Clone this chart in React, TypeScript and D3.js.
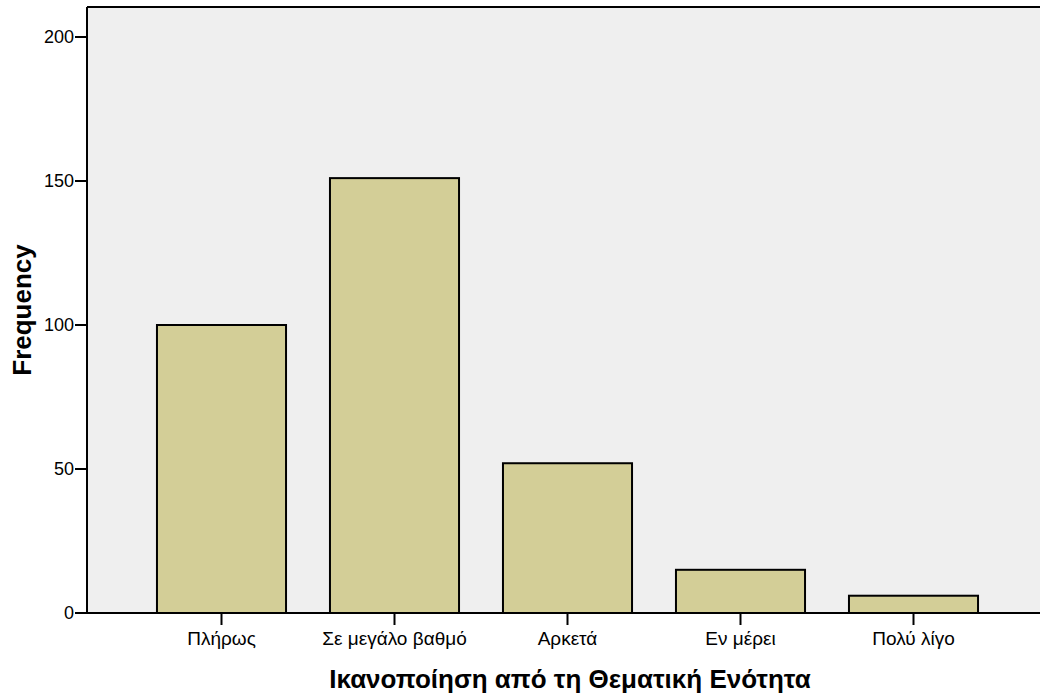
import React from "react";
import * as d3 from "d3";

const categories = ["Πλήρως", "Σε μεγάλο βαθμό", "Αρκετά", "Εν μέρει", "Πολύ λίγο"];
const frequencies = [100, 151, 52, 15, 6];
const yTicks = [0, 50, 100, 150, 200];

export default function App() {
  const W = 1040, H = 694;
  const left = 87, top = 7, right = 1040, bottom = 613;
  const x = d3.scaleBand<string>().domain(categories).range([135, 1000]).paddingInner(0.254).paddingOuter(0.127);
  const y = d3.scaleLinear().domain([0, 200]).range([bottom, 37]);
  const font = "'Liberation Sans', Arial, sans-serif";
  return (
    <svg width={W} height={H} style={{ position: "absolute", left: 0, top: 0 }} fontFamily={font}>
      <rect x={left} y={top} width={right - left} height={bottom - top} fill="#efefef" />
      <line x1={left} x2={right} y1={top} y2={top} stroke="#000" strokeWidth={2} />
      {categories.map((c, i) => (
        <rect key={c} x={x(c)!} y={y(frequencies[i])} width={x.bandwidth()} height={bottom - y(frequencies[i])}
          fill="#d3ce97" stroke="#000" strokeWidth={2} />
      ))}
      <line x1={left} x2={left} y1={top} y2={bottom} stroke="#000" strokeWidth={2} />
      <line x1={left} x2={right} y1={bottom} y2={bottom} stroke="#000" strokeWidth={2} />
      {yTicks.map(t => (
        <g key={t}>
          <line x1={left - 12} x2={left} y1={y(t)} y2={y(t)} stroke="#000" strokeWidth={2} />
          <text x={left - 13} y={y(t)} dy="0.36em" textAnchor="end" fontSize={18}>{t}</text>
        </g>
      ))}
      {categories.map(c => {
        const cx = x(c)! + x.bandwidth() / 2;
        return (
          <g key={c}>
            <line x1={cx} x2={cx} y1={bottom} y2={bottom + 12} stroke="#000" strokeWidth={2} />
            <text x={cx} y={bottom + 32} textAnchor="middle" fontSize={19}>{c}</text>
          </g>
        );
      })}
      <text x={570} y={688} textAnchor="middle" fontSize={26} fontWeight="bold">Ικανοποίηση από τη Θεματική Ενότητα</text>
      <text transform={`translate(31, ${(top + bottom) / 2}) rotate(-90)`} textAnchor="middle" fontSize={26} fontWeight="bold">Frequency</text>
    </svg>
  );
}
